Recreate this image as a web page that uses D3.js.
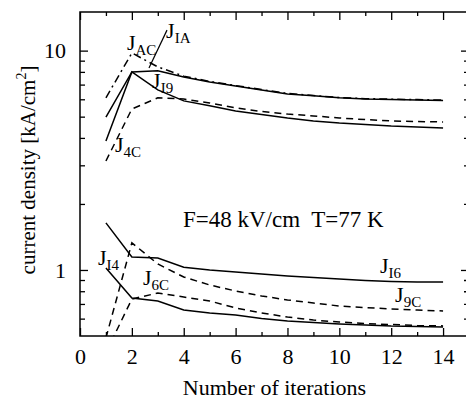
<!DOCTYPE html>
<html>
<head>
<meta charset="UTF-8">
<title>current density vs iterations</title>
<script src="https://cdn.jsdelivr.net/npm/d3@7"></script>
<style>
  body { margin:0; background:#fff; }
  svg { display:block; }
  text { font-family: "Liberation Serif", "Times New Roman", serif; fill:#000; }
</style>
</head>
<body>
<svg id="chart" width="466" height="400"></svg>
<script>
// iteration number (x)
const iterations = [1, 2, 3, 4, 5, 6, 7, 8, 9, 10, 11, 12, 13, 14];

// current density, kA/cm^2
const jAC = [6.09, 9.76, 8.43, 7.65, 7.24, 6.93, 6.65, 6.38, 6.24, 6.11, 6.04, 6.01, 5.98, 5.95];
const jIA = [4.98, 8.00, 8.10, 7.59, 7.20, 6.90, 6.62, 6.35, 6.22, 6.09, 6.02, 5.99, 5.96, 5.93];
const jI9 = [3.87, 8.00, 6.62, 5.90, 5.60, 5.31, 5.12, 4.93, 4.78, 4.68, 4.61, 4.53, 4.49, 4.44];
const j4C = [3.14, 5.42, 6.09, 6.02, 5.77, 5.48, 5.28, 5.14, 5.04, 4.93, 4.85, 4.78, 4.75, 4.73];
const jI6 = [1.64, 1.146, 1.134, 1.03, 1.00, 0.979, 0.959, 0.939, 0.924, 0.91, 0.896, 0.886, 0.881, 0.881];
const jI4 = [1.02, 0.745, 0.722, 0.657, 0.636, 0.623, 0.601, 0.585, 0.576, 0.567, 0.561, 0.555, 0.553, 0.55];
const j9C = [0.49, 1.33, 1.065, 0.929, 0.854, 0.802, 0.761, 0.73, 0.707, 0.685, 0.674, 0.664, 0.657, 0.65];
const j6C = [0.42, 0.737, 0.785, 0.753, 0.722, 0.671, 0.637, 0.61, 0.591, 0.579, 0.57, 0.564, 0.558, 0.556];

const xMajor = [0, 2, 4, 6, 8, 10, 12, 14];
const xMinor = [1, 3, 5, 7, 9, 11, 13];
const yMajor = [1, 10];
const yMinor = [0.6, 0.7, 0.8, 0.9, 2, 3, 4, 5, 6, 7, 8, 9];

const mLeft = 80, mRight = 469, mTop = 12, mBottom = 336;

const svg = d3.select('#chart');
const x = d3.scaleLinear().domain([0, 15]).range([mLeft, mRight]);
const y = d3.scaleLog().domain([0.5, 15]).range([mBottom, mTop]);

svg.append('clipPath').attr('id', 'plot')
  .append('rect')
    .attr('x', mLeft).attr('y', mTop)
    .attr('width', mRight - mLeft).attr('height', mBottom - mTop);

// ticks, all pointing inward
function ticks(axis, tf) {
  const g = svg.append('g').attr('transform', tf).call(axis);
  g.select('.domain').remove();
  g.selectAll('.tick line').attr('stroke', '#000').attr('stroke-width', 1.3);
  g.selectAll('text').style('font-family', '"Liberation Serif", serif').style('font-size', '22px');
  return g;
}
ticks(d3.axisBottom(x).tickValues(xMajor).tickSize(-8).tickPadding(12).tickFormat(d3.format('d')),
  `translate(0,${mBottom})`);
ticks(d3.axisBottom(x).tickValues(xMinor).tickSize(-4).tickFormat(''), `translate(0,${mBottom})`);
ticks(d3.axisTop(x).tickValues(xMajor).tickSize(-8).tickFormat(''), `translate(0,${mTop})`);
ticks(d3.axisTop(x).tickValues(xMinor).tickSize(-4).tickFormat(''), `translate(0,${mTop})`);
ticks(d3.axisLeft(y).tickValues(yMajor).tickSize(-8).tickPadding(14).tickFormat(d3.format('d')),
  `translate(${mLeft},0)`);
ticks(d3.axisLeft(y).tickValues(yMinor).tickSize(-5).tickFormat(''), `translate(${mLeft},0)`);
ticks(d3.axisRight(y).tickValues(yMajor).tickSize(-8).tickFormat(''), `translate(${mRight},0)`);
ticks(d3.axisRight(y).tickValues(yMinor).tickSize(-5).tickFormat(''), `translate(${mRight},0)`);

// frame
svg.append('rect')
  .attr('x', mLeft).attr('y', mTop)
  .attr('width', mRight - mLeft).attr('height', mBottom - mTop)
  .attr('fill', 'none').attr('stroke', '#000').attr('stroke-width', 1.5);

// curves
const line = d3.line().x((d, i) => x(iterations[i])).y(d => y(d));
const series = [
  { v: jIA, dash: null },
  { v: jAC, dash: '8,4,2,4' },
  { v: jI9, dash: null },
  { v: j4C, dash: '7,5' },
  { v: jI6, dash: null },
  { v: jI4, dash: null },
  { v: j9C, dash: '7,5' },
  { v: j6C, dash: '7,5' }
];
const lines = svg.append('g').attr('clip-path', 'url(#plot)');
series.forEach(s => {
  lines.append('path')
    .attr('d', line(s.v))
    .attr('fill', 'none')
    .attr('stroke', '#000')
    .attr('stroke-width', 1.5)
    .attr('stroke-dasharray', s.dash);
});

// curve labels, J with subscript
const labels = [
  { sub: 'AC', x: 1.81, v: 10.1 },
  { sub: 'IA', x: 3.32, v: 11.4 },
  { sub: 'I9', x: 2.78, v: 6.76 },
  { sub: '4C', x: 1.35, v: 3.45 },
  { sub: 'I4', x: 0.69, v: 1.054 },
  { sub: '6C', x: 2.43, v: 0.854 },
  { sub: 'I6', x: 11.57, v: 0.969 },
  { sub: '9C', x: 12.15, v: 0.715 }
];
labels.forEach(l => {
  const t = svg.append('text')
    .attr('x', x(l.x)).attr('y', y(l.v))
    .style('font-size', '22px');
  t.append('tspan').text('J');
  t.append('tspan').attr('dy', 5).style('font-size', '15px').text(l.sub);
});

// leader for J_IA
svg.append('line')
  .attr('x1', x(2.66)).attr('y1', y(8.34))
  .attr('x2', x(3.355)).attr('y2', y(12.4))
  .attr('stroke', '#000').attr('stroke-width', 1.2);

svg.append('text')
  .attr('x', 183).attr('y', 227)
  .style('font-size', '23px')
  .attr('xml:space', 'preserve')
  .text('F=48 kV/cm  T=77 K');

svg.append('text')
  .attr('x', (mLeft + mRight) / 2).attr('y', 395)
  .attr('text-anchor', 'middle')
  .style('font-size', '22px')
  .text('Number of iterations');

const yt = svg.append('text')
  .attr('transform', `translate(35,${(mTop + mBottom) / 2 - 4}) rotate(-90)`)
  .attr('text-anchor', 'middle')
  .style('font-size', '21px');
yt.append('tspan').text('current density [kA/cm');
yt.append('tspan').attr('dy', -9).style('font-size', '14px').text('2');
yt.append('tspan').attr('dy', 9).text(']');
</script>
</body>
</html>
